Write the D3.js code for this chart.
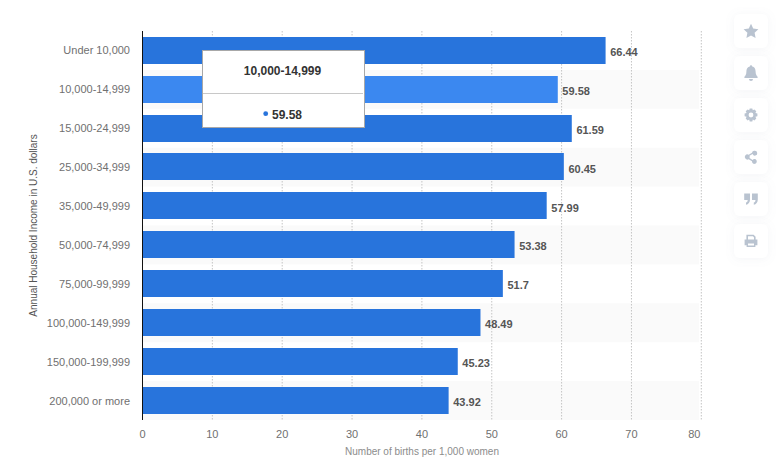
<!DOCTYPE html>
<html><head><meta charset="utf-8">
<script src="https://cdnjs.cloudflare.com/ajax/libs/d3/7.8.5/d3.min.js"></script>
<style>html,body{margin:0;padding:0;background:#fff;overflow:hidden}svg{display:block}text{font-family:"Liberation Sans",Arial,sans-serif}</style>
</head><body><svg id="c" width="780" height="470"></svg>
<script>
const categories=["Under 10,000","10,000-14,999","15,000-24,999","25,000-34,999","35,000-49,999","50,000-74,999","75,000-99,999","100,000-149,999","150,000-199,999","200,000 or more"];
const values=[66.44,59.58,61.59,60.45,57.99,53.38,51.7,48.49,45.23,43.92];
const xTicks=[0,10,20,30,40,50,60,70,80];
const hoverIndex=1;
const yTitle="Annual Household Income in U.S. dollars";
const xTitle="Number of births per 1,000 women";
const svg=d3.select("#c");
const defs=svg.append("defs");
const f=defs.append("filter").attr("id","sh").attr("x","-40%").attr("y","-40%").attr("width","180%").attr("height","180%");
f.append("feDropShadow").attr("dx",0).attr("dy",1).attr("stdDeviation",4).attr("flood-color","#8a9ab0").attr("flood-opacity",0.1);
const x=d3.scaleLinear().domain([0,80]).range([142.5,700.1]);
const grid=d3.scaleLinear().domain([0,80]).range([142.5,701.3]);
const y=d3.scaleBand().domain(categories).range([31,420]).paddingInner(0).paddingOuter(0);
const barH=27;
svg.append("g").selectAll("rect").data(categories.filter((d,i)=>i%2==1)).join("rect")
 .attr("x",x(0)).attr("y",d=>y(d)).attr("width",699-x(0)).attr("height",y.bandwidth()).attr("fill","#fafafa");
svg.append("g").selectAll("line").data(xTicks.slice(1)).join("line")
 .attr("x1",d=>grid(d)).attr("x2",d=>grid(d)).attr("y1",31).attr("y2",420)
 .attr("stroke","#c4c4c4").attr("stroke-width",1).attr("stroke-dasharray","1.5 1.5");
svg.append("g").selectAll("rect").data(values).join("rect")
 .attr("x",x(0)).attr("y",(d,i)=>Math.round(y(categories[i])+(y.bandwidth()-barH)/2-0.2)).attr("width",d=>x(d)-x(0)).attr("height",barH)
 .attr("fill",(d,i)=>i==hoverIndex?"#3b88f0":"#2874dc");
svg.append("line").attr("x1",x(0)).attr("x2",x(0)).attr("y1",31).attr("y2",420).attr("stroke","#111").attr("stroke-width",1);
svg.append("g").selectAll("text").data(values).join("text")
 .attr("x",d=>x(d)+4.6).attr("y",(d,i)=>y(categories[i])+y.bandwidth()/2+5.5)
 .attr("font-size",11).attr("font-weight",700).attr("fill","#555").text(d=>d);
svg.append("g").selectAll("text").data(categories).join("text")
 .attr("x",130).attr("y",d=>y(d)+y.bandwidth()/2+4).attr("text-anchor","end")
 .attr("font-size",11).attr("fill","#707070").text(d=>d);
svg.append("g").selectAll("text").data(xTicks).join("text")
 .attr("x",d=>grid(d)-(d==80?7:0)).attr("y",438).attr("text-anchor","middle")
 .attr("font-size",11).attr("fill","#707070").text(d=>d);
svg.append("text").attr("x",422).attr("y",455).attr("text-anchor","middle").attr("font-size",10).attr("fill","#8c8c8c").text(xTitle);
svg.append("text").attr("transform","translate(37,225.5) rotate(-90)").attr("text-anchor","middle").attr("font-size",10).attr("fill","#555").text(yTitle);
// tooltip
const tip=svg.append("g");
tip.append("rect").attr("x",202.5).attr("y",50.5).attr("width",162).attr("height",77).attr("fill","#fff").attr("stroke","#a8a8a8").attr("stroke-width",1);
tip.append("line").attr("x1",203).attr("x2",363).attr("y1",93.5).attr("y2",93.5).attr("stroke","#c8c8c8");
tip.append("text").attr("x",282.5).attr("y",75).attr("text-anchor","middle").attr("font-size",12).attr("font-weight",700).attr("fill","#333").text(categories[hoverIndex]);
tip.append("circle").attr("cx",265.7).attr("cy",113.7).attr("r",2.4).attr("fill","#2874dc");
tip.append("text").attr("x",272).attr("y",119).attr("font-size",12).attr("font-weight",700).attr("fill","#333").text(values[hoverIndex]);
// side buttons
const icons=[
 "M0-7.2 2.2-2.4 7.4-1.8 3.6 1.8 4.6 7 0 4.4-4.6 7-3.6 1.8-7.4-1.8-2.2-2.4Z",
 "M-1.2-6.6A1.2 1.2 0 0 1 1.2-6.6C4-6 4.6-3.6 4.6-1.5 4.6 1.5 5.6 2.7 6.6 3.8V5H-6.6V3.8C-5.6 2.7-4.6 1.5-4.6-1.5-4.6-3.6-4-6-1.2-6.6ZM-2 6H2A2 2 0 0 1-2 6Z",
 "M-1.3-6.6H1.3L1.8-4.7 3.4-5.6 5.3-3.7 4.4-2.1 6.4-1.5V1.2L4.4 1.8 5.3 3.5 3.4 5.4 1.8 4.5 1.3 6.4H-1.3L-1.8 4.5-3.4 5.4-5.3 3.5-4.4 1.8-6.4 1.2V-1.5L-4.4-2.1-5.3-3.7-3.4-5.6-1.8-4.7ZM0-2.4A2.4 2.4 0 1 0 0 2.4 2.4 2.4 0 1 0 0-2.4Z",
 "M3.8-6.2A2.4 2.4 0 1 1 1.6-3L-1.5-1.2A2.6 2.6 0 0 1-1.5 1L1.6 2.9A2.4 2.4 0 1 1 1 4.2L-2.3 2.2A2.6 2.6 0 1 1-2.3-2.3L1-4.3A2.4 2.4 0 0 1 3.8-6.2Z",
 "M-6.8-5.5H-1V.5C-1 3.5-2.6 5.4-5 5.8V3.6C-3.9 3.2-3.4 2.4-3.3 1H-6.8ZM1-5.5H6.8V.5C6.8 3.5 5.2 5.4 2.8 5.8V3.6C3.9 3.2 4.4 2.4 4.5 1H1Z",
 "M-4.6-6.2H2.6L4.6-4.2V-1.4H6.4V4.2H4.4V6H-4.4V4.2H-6.4V-1.4H-4.6ZM-3-4.7V-1.4H3V-3.6L2-4.7ZM-3 2.6V4.5H3V2.6Z"
];
const btn=svg.append("g").selectAll("g").data(icons).join("g").attr("transform",(d,i)=>`translate(751,${d3.scaleLinear().domain([0,5]).range([31,241])(i)})`);
btn.append("rect").attr("x",-17).attr("y",-17).attr("width",34).attr("height",34).attr("rx",6).attr("fill","#fff").attr("filter","url(#sh)");
btn.append("path").attr("d",d=>d).attr("fill","#b9c3d0").attr("fill-rule","evenodd");
</script></body></html>
